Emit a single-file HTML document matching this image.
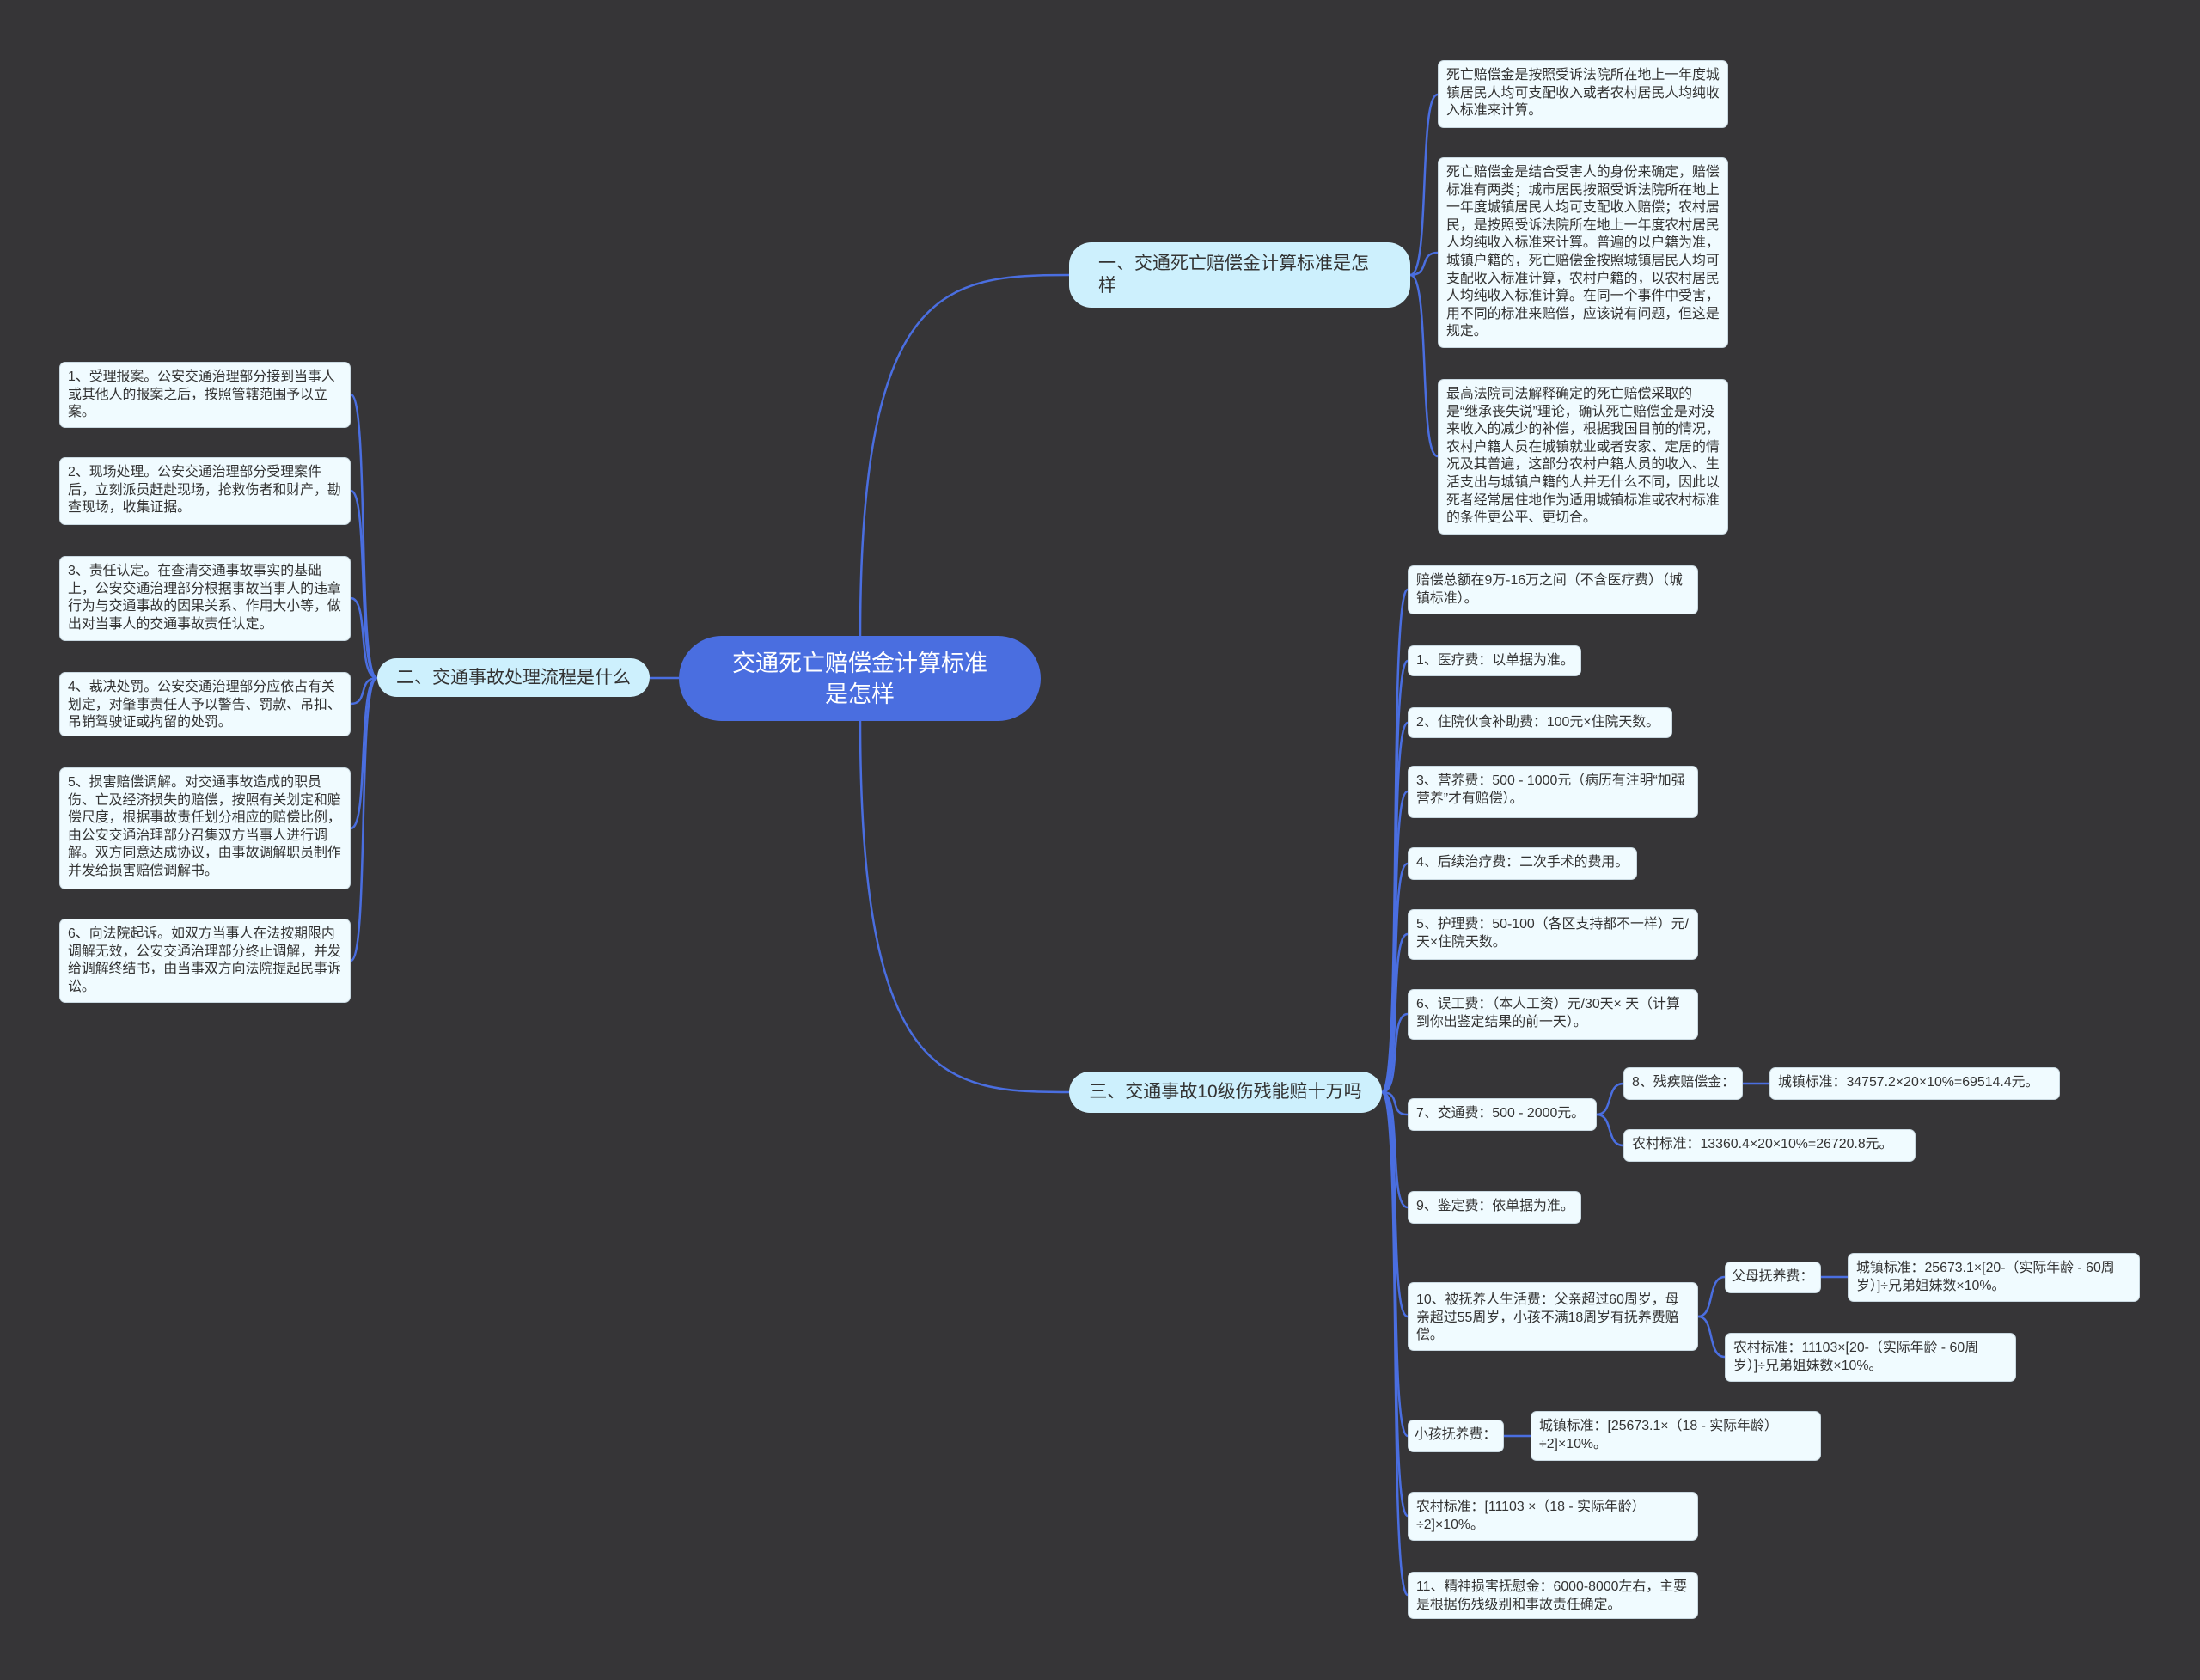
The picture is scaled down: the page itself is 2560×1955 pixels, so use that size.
<!DOCTYPE html>
<html><head><meta charset="utf-8">
<style>
html,body{margin:0;padding:0;}
body{width:2560px;height:1955px;background:#363537;position:relative;overflow:hidden;font-family:"Liberation Sans","Noto Sans CJK SC",sans-serif;}
.b{position:absolute;box-sizing:border-box;}
.leaf{background:#f0fbff;border:1px solid #c9d8e0;border-radius:7px;color:#333;font-size:15.9px;line-height:20.6px;padding:7px 7px 7px 9px;}
.nw{white-space:nowrap;}
.br{background:#cdf0fd;border-radius:26px;color:#333;font-size:21px;line-height:26px;padding:0 34px;display:flex;align-items:center;}
.br.s{padding:0;justify-content:center;white-space:nowrap;}
.c{background:#4a6ee0;border-radius:50px;color:#fff;font-size:27px;line-height:36px;text-align:center;display:flex;align-items:center;justify-content:center;}
svg{position:absolute;left:0;top:0;}
</style></head><body>
<svg width="2560" height="1955" fill="none" stroke="#4a6ee0" stroke-width="2.5">
<path d="M1001,740 C1001,330 1100,320 1244,320"/>
<path d="M1001,839 C1001,1262 1100,1271 1244,1271"/>
<path d="M790,789 L756,789"/>
<path d="M1641,320 C1665,320 1650,110 1673,110"/>
<path d="M1641,320 C1665,320 1650,294 1673,294"/>
<path d="M1641,320 C1665,320 1650,531 1673,531"/>
<path d="M439,789 C415,789 430,459 408,459"/>
<path d="M439,789 C415,789 430,571 408,571"/>
<path d="M439,789 C415,789 430,696 408,696"/>
<path d="M439,789 C415,789 430,819 408,819"/>
<path d="M439,789 C415,789 430,964 408,964"/>
<path d="M439,789 C415,789 430,1118 408,1118"/>
<path d="M1608,1271 C1632,1271 1615,686 1638,686"/>
<path d="M1608,1271 C1632,1271 1615,769 1638,769"/>
<path d="M1608,1271 C1632,1271 1615,841 1638,841"/>
<path d="M1608,1271 C1632,1271 1615,921 1638,921"/>
<path d="M1608,1271 C1632,1271 1615,1005 1638,1005"/>
<path d="M1608,1271 C1632,1271 1615,1087 1638,1087"/>
<path d="M1608,1271 C1632,1271 1615,1180 1638,1180"/>
<path d="M1608,1271 C1632,1271 1615,1297 1638,1297"/>
<path d="M1608,1271 C1632,1271 1615,1405 1638,1405"/>
<path d="M1608,1271 C1632,1271 1615,1532 1638,1532"/>
<path d="M1608,1271 C1632,1271 1615,1671 1638,1671"/>
<path d="M1608,1271 C1632,1271 1615,1764 1638,1764"/>
<path d="M1608,1271 C1632,1271 1615,1856 1638,1856"/>
<path d="M1858,1297 C1878,1297 1868,1261 1889,1261"/>
<path d="M1858,1297 C1878,1297 1868,1333 1889,1333"/>
<path d="M2028,1261 L2059,1261"/>
<path d="M1976,1532 C1996,1532 1986,1486 2007,1486"/>
<path d="M1976,1532 C1996,1532 1986,1579 2007,1579"/>
<path d="M2119,1486 L2150,1486"/>
<path d="M1750,1671 L1781,1671"/>
</svg>

<div class="b c" style="left:790px;top:740px;width:421px;height:99px;">交通死亡赔偿金计算标准<br>是怎样</div>
<div class="b br" style="left:1244px;top:282px;width:397px;height:76px;">一、交通死亡赔偿金计算标准是怎样</div>
<div class="b br s" style="left:439px;top:766px;width:317px;height:45px;">二、交通事故处理流程是什么</div>
<div class="b br s" style="left:1244px;top:1247px;width:364px;height:48px;">三、交通事故10级伤残能赔十万吗</div>

<div class="b leaf" style="left:1673px;top:70px;width:338px;height:79px;">死亡赔偿金是按照受诉法院所在地上一年度城镇居民人均可支配收入或者农村居民人均纯收入标准来计算。</div>
<div class="b leaf" style="left:1673px;top:183px;width:338px;height:222px;">死亡赔偿金是结合受害人的身份来确定，赔偿标准有两类；城市居民按照受诉法院所在地上一年度城镇居民人均可支配收入赔偿；农村居民，是按照受诉法院所在地上一年度农村居民人均纯收入标准来计算。普遍的以户籍为准，城镇户籍的，死亡赔偿金按照城镇居民人均可支配收入标准计算，农村户籍的，以农村居民人均纯收入标准计算。在同一个事件中受害，用不同的标准来赔偿，应该说有问题，但这是规定。</div>
<div class="b leaf" style="left:1673px;top:441px;width:338px;height:181px;">最高法院司法解释确定的死亡赔偿采取的是“继承丧失说”理论，确认死亡赔偿金是对没来收入的减少的补偿，根据我国目前的情况，农村户籍人员在城镇就业或者安家、定居的情况及其普遍，这部分农村户籍人员的收入、生活支出与城镇户籍的人并无什么不同，因此以死者经常居住地作为适用城镇标准或农村标准的条件更公平、更切合。</div>

<div class="b leaf" style="left:69px;top:421px;width:339px;height:77px;">1、受理报案。公安交通治理部分接到当事人或其他人的报案之后，按照管辖范围予以立案。</div>
<div class="b leaf" style="left:69px;top:532px;width:339px;height:79px;">2、现场处理。公安交通治理部分受理案件后，立刻派员赶赴现场，抢救伤者和财产，勘查现场，收集证据。</div>
<div class="b leaf" style="left:69px;top:647px;width:339px;height:99px;">3、责任认定。在查清交通事故事实的基础上，公安交通治理部分根据事故当事人的违章行为与交通事故的因果关系、作用大小等，做出对当事人的交通事故责任认定。</div>
<div class="b leaf" style="left:69px;top:782px;width:339px;height:75px;">4、裁决处罚。公安交通治理部分应依占有关划定，对肇事责任人予以警告、罚款、吊扣、吊销驾驶证或拘留的处罚。</div>
<div class="b leaf" style="left:69px;top:893px;width:339px;height:142px;">5、损害赔偿调解。对交通事故造成的职员伤、亡及经济损失的赔偿，按照有关划定和赔偿尺度，根据事故责任划分相应的赔偿比例，由公安交通治理部分召集双方当事人进行调解。双方同意达成协议，由事故调解职员制作并发给损害赔偿调解书。</div>
<div class="b leaf" style="left:69px;top:1069px;width:339px;height:98px;">6、向法院起诉。如双方当事人在法按期限内调解无效，公安交通治理部分终止调解，并发给调解终结书，由当事双方向法院提起民事诉讼。</div>

<div class="b leaf" style="left:1638px;top:658px;width:338px;height:57px;">赔偿总额在9万-16万之间（不含医疗费）（城镇标准）。</div>
<div class="b leaf nw" style="left:1638px;top:751px;width:202px;height:36px;">1、医疗费：以单据为准。</div>
<div class="b leaf nw" style="left:1638px;top:823px;width:308px;height:36px;">2、住院伙食补助费：100元×住院天数。</div>
<div class="b leaf" style="left:1638px;top:891px;width:338px;height:61px;">3、营养费：500 - 1000元（病历有注明“加强营养”才有赔偿）。</div>
<div class="b leaf nw" style="left:1638px;top:986px;width:267px;height:38px;">4、后续治疗费：二次手术的费用。</div>
<div class="b leaf" style="left:1638px;top:1058px;width:338px;height:59px;">5、护理费：50-100（各区支持都不一样）元/天×住院天数。</div>
<div class="b leaf" style="left:1638px;top:1151px;width:338px;height:59px;">6、误工费：（本人工资）元/30天× 天（计算到你出鉴定结果的前一天）。</div>
<div class="b leaf nw" style="left:1638px;top:1278px;width:220px;height:38px;">7、交通费：500 - 2000元。</div>
<div class="b leaf nw" style="left:1889px;top:1242px;width:139px;height:38px;">8、残疾赔偿金：</div>
<div class="b leaf nw" style="left:2059px;top:1242px;width:338px;height:38px;">城镇标准：34757.2×20×10%=69514.4元。</div>
<div class="b leaf nw" style="left:1889px;top:1314px;width:340px;height:38px;">农村标准：13360.4×20×10%=26720.8元。</div>
<div class="b leaf nw" style="left:1638px;top:1386px;width:202px;height:38px;">9、鉴定费：依单据为准。</div>
<div class="b leaf" style="left:1638px;top:1492px;width:338px;height:80px;padding-top:10px;">10、被抚养人生活费：父亲超过60周岁，母亲超过55周岁，小孩不满18周岁有抚养费赔偿。</div>
<div class="b leaf nw" style="left:2007px;top:1468px;width:112px;height:37px;padding-left:7px;">父母抚养费：</div>
<div class="b leaf" style="left:2150px;top:1458px;width:340px;height:57px;">城镇标准：25673.1×[20-（实际年龄 - 60周岁）]÷兄弟姐妹数×10%。</div>
<div class="b leaf" style="left:2007px;top:1551px;width:339px;height:57px;">农村标准：11103×[20-（实际年龄 - 60周岁）]÷兄弟姐妹数×10%。</div>
<div class="b leaf nw" style="left:1638px;top:1652px;width:112px;height:38px;padding-left:7px;">小孩抚养费：</div>
<div class="b leaf" style="left:1781px;top:1642px;width:338px;height:58px;">城镇标准：[25673.1×（18 - 实际年龄）÷2]×10%。</div>
<div class="b leaf" style="left:1638px;top:1736px;width:338px;height:57px;">农村标准：[11103 ×（18 - 实际年龄）÷2]×10%。</div>
<div class="b leaf" style="left:1638px;top:1829px;width:338px;height:55px;">11、精神损害抚慰金：6000-8000左右，主要是根据伤残级别和事故责任确定。</div>
</body></html>
